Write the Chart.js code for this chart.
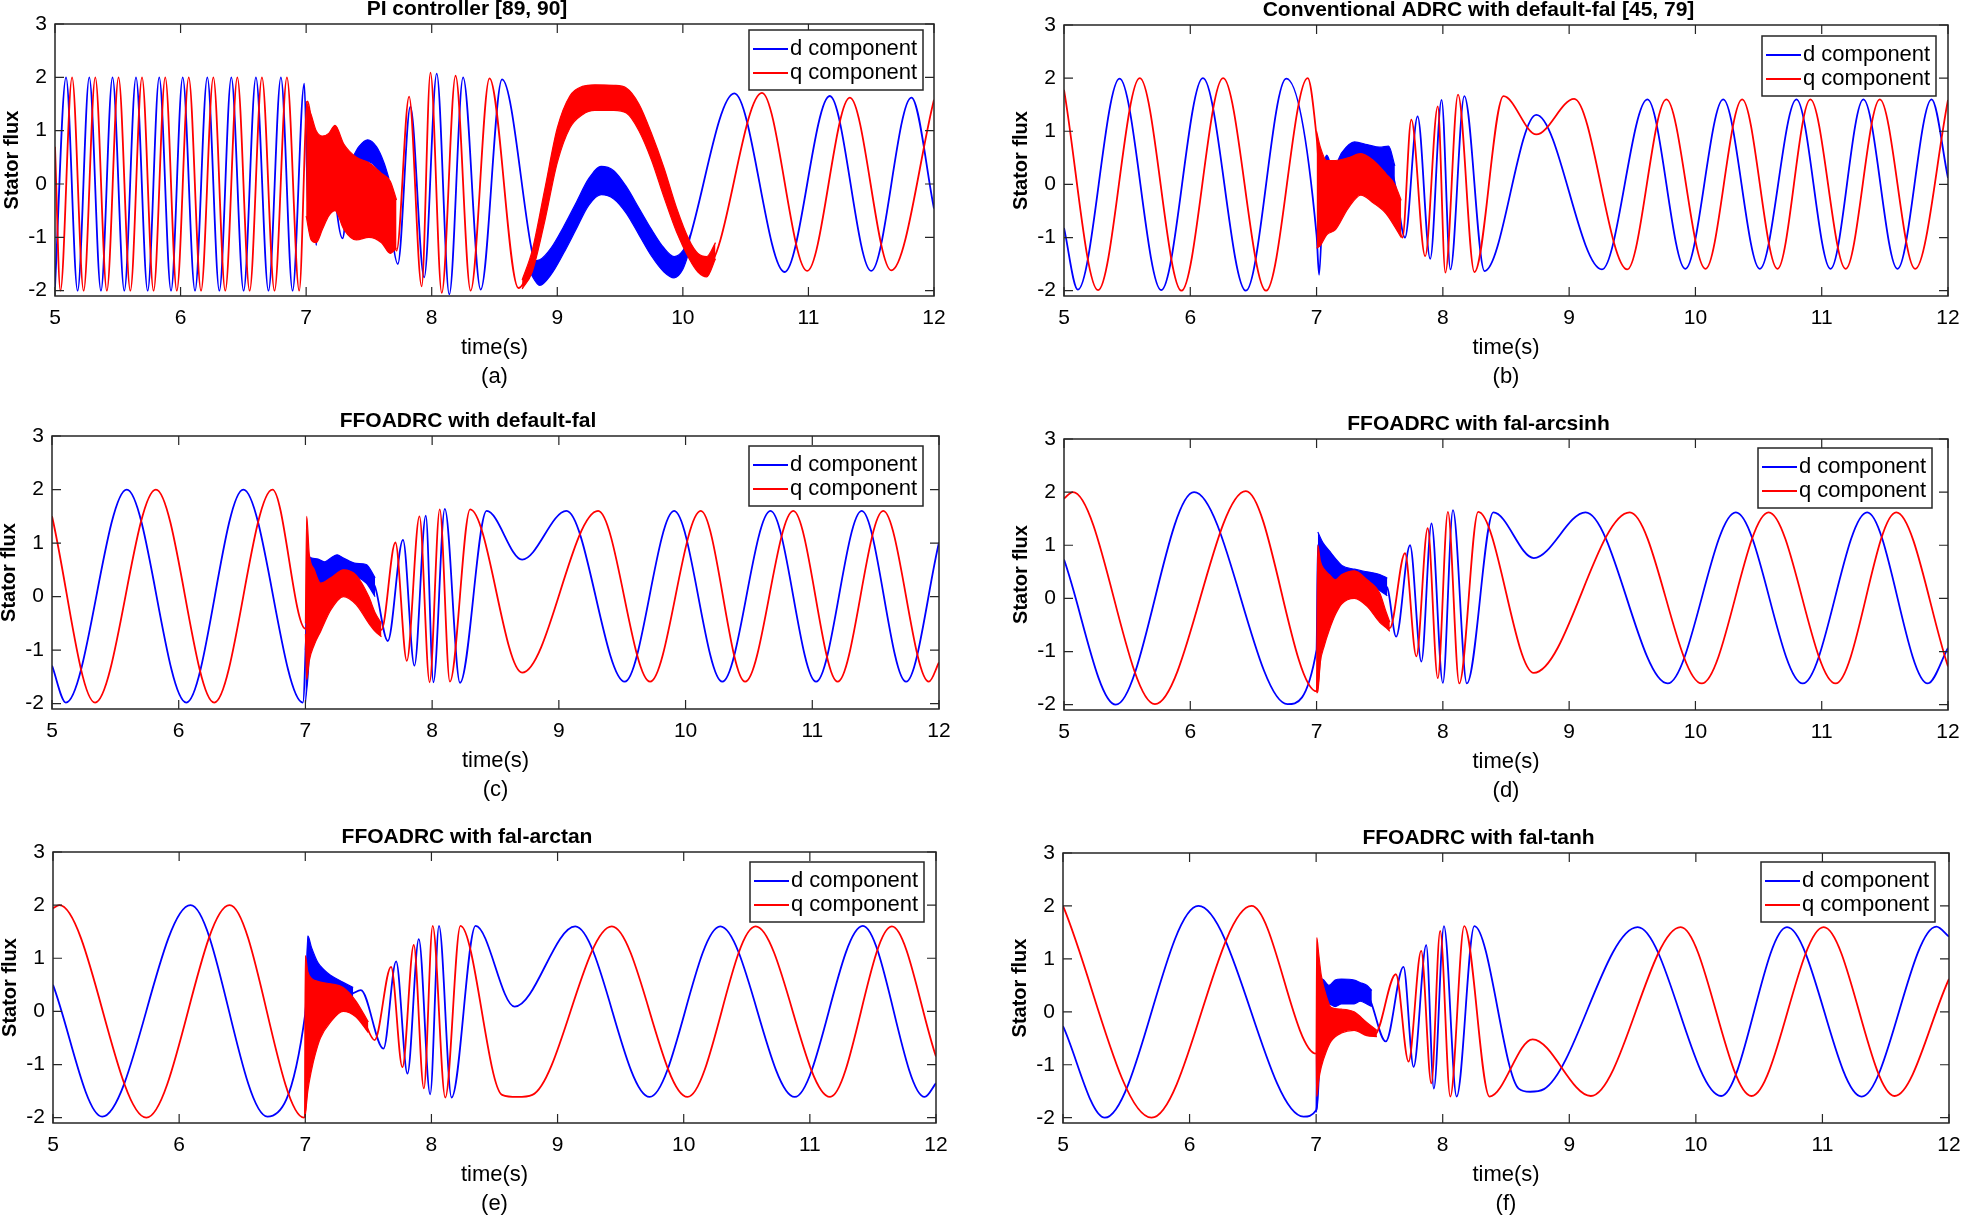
<!DOCTYPE html>
<html><head><meta charset="utf-8">
<script src="https://cdn.jsdelivr.net/npm/chart.js@4.4.1/dist/chart.umd.min.js"></script>
<style>
html,body{margin:0;padding:0;background:#fff;width:1961px;height:1215px;overflow:hidden;position:relative}
canvas{position:absolute}
</style></head><body>
<script>
// ================= DATA =================
const X_MIN = 5, X_MAX = 12, Y_MIN = -2.1, Y_MAX = 3;
const X_TICKS = [5, 6, 7, 8, 9, 10, 11, 12];
const Y_TICKS = [-2, -1, 0, 1, 2, 3];
const TITLES = ['PI controller [89, 90]', 'Conventional ADRC with default-fal [45, 79]',
  'FFOADRC with default-fal', 'FFOADRC with fal-arcsinh', 'FFOADRC with fal-arctan', 'FFOADRC with fal-tanh'];
const SUBLABELS = ['(a)', '(b)', '(c)', '(d)', '(e)', '(f)'];
const X_LABEL = 'time(s)';
const Y_LABEL = 'Stator flux';
const SERIES = ['d component', 'q component'];

// ---- (a) PI controller ----
const aD = [[5.0,-1.93],[5.088,2],[5.18,-2],[5.273,2],[5.366,-2],[5.458,2],[5.552,-2],[5.645,2],[5.738,-2],[5.83,2],[5.924,-2],[6.017,2],[6.115,-2],[6.213,2],[6.309,-2],[6.404,2],[6.502,-2],[6.6,2],[6.7,-2],[6.799,2],[6.892,-2],[6.985,1.88],
  [7.02,-0.7],[7.05,1.0],[7.08,-1.15],[7.12,0.7],[7.16,-0.5],[7.2,0.9],[7.24,-0.4],[7.29,-1.02],[7.34,0.05],[7.42,0.45],[7.5,0.62],[7.58,0.45],[7.64,0.15],[7.68,-0.9],[7.73,-1.5],[7.83,1.45],[7.94,-1.75],[8.04,2.07],[8.14,-2.07],[8.25,2.0],[8.39,-1.98],[8.56,1.96],
  [8.86,-1.66],[9.35,0.07],[9.93,-1.56],[10.41,1.7],[10.81,-1.65],[11.17,1.65],[11.5,-1.63],[11.82,1.62],[12.0,-0.46]];
const aQ = [[5.0,0.7],[5.043,-2],[5.136,2],[5.228,-2],[5.321,2],[5.413,-2],[5.506,2],[5.6,-2],[5.693,2],[5.785,-2],[5.878,2],[5.97,-2],[6.065,2],[6.163,-2],[6.261,2],[6.356,-2],[6.452,2],[6.55,-2],[6.648,2],[6.748,-2],[6.847,2],[6.945,-2],
  [7.01,1.55],[7.1,0.0],[7.23,0.3],[7.4,-0.3],[7.55,-0.3],[7.66,-0.6],[7.72,-1.25],[7.82,1.64],[7.92,-1.92],[7.99,2.09],[8.08,-2.04],[8.19,2.03],[8.31,-2.0],[8.46,1.98],[8.69,-1.95],
  [8.9,-0.4],[9.0,0.72],[9.2,1.55],[9.4,1.62],[9.55,1.57],[9.75,0.7],[9.95,-0.67],[10.19,-1.55],[10.63,1.71],[10.99,-1.63],[11.33,1.62],[11.66,-1.62],[12.0,1.58]];
const aDband1X  = [7.3, 7.36, 7.42, 7.49, 7.56, 7.62, 7.66];
const aDband1Hi = [0.2, 0.45, 0.7, 0.83, 0.7, 0.4, 0.1];
const aDband1Lo = [-0.2, 0.0, 0.25, 0.42, 0.3, 0.0, -0.3];
const aDband2X  = [8.78, 8.86, 8.95, 9.05, 9.15, 9.25, 9.35, 9.45, 9.55, 9.65, 9.75, 9.85, 9.93, 10.0, 10.06];
const aDband2Hi = [-1.45, -1.42, -1.2, -0.8, -0.35, 0.1, 0.33, 0.25, -0.05, -0.45, -0.85, -1.2, -1.36, -1.25, -0.95];
const aDband2Lo = [-1.65, -1.9, -1.7, -1.3, -0.85, -0.4, -0.2, -0.28, -0.55, -0.95, -1.35, -1.65, -1.76, -1.6, -1.2];
const aQband1X  = [7.0, 7.04, 7.08, 7.13, 7.18, 7.23, 7.3, 7.4, 7.5, 7.6, 7.67, 7.72];
const aQband1Hi = [1.55, 1.3, 1.0, 0.9, 0.95, 1.1, 0.75, 0.5, 0.4, 0.2, 0.05, -0.3];
const aQband1Lo = [-0.6, -1.05, -1.1, -0.85, -0.6, -0.5, -0.85, -1.05, -1.0, -1.1, -1.3, -1.2];
const aQband2X  = [8.72, 8.8, 8.9, 9.0, 9.1, 9.2, 9.3, 9.45, 9.55, 9.65, 9.75, 9.85, 9.95, 10.05, 10.12, 10.19, 10.26];
const aQband2Hi = [-1.8, -1.25, -0.1, 1.05, 1.65, 1.83, 1.86, 1.85, 1.8, 1.5, 0.95, 0.3, -0.45, -1.05, -1.3, -1.36, -1.1];
const aQband2Lo = [-1.97, -1.65, -0.7, 0.4, 1.05, 1.3, 1.38, 1.38, 1.33, 1.0, 0.45, -0.25, -0.9, -1.4, -1.65, -1.74, -1.4];

// ---- (b) Conventional ADRC ----
const bD = [[5.0,-0.82],[5.11,-1.98],[5.44,1.99],[5.77,-1.99],[6.1,2.0],[6.44,-2.0],[6.76,1.99],[7.0,-0.95],[7.02,-1.7],[7.06,0.1],[7.13,0.18],[7.3,0.6],[7.45,0.52],[7.57,0.42],[7.62,0.02],[7.7,-1.0],[7.8,1.28],[7.9,-1.4],[7.99,1.59],[8.06,-1.6],[8.17,1.66],[8.33,-1.63],[8.74,1.31],[9.26,-1.6],[9.62,1.6],[9.92,-1.59],[10.22,1.6],[10.51,-1.59],[10.8,1.6],[11.07,-1.59],[11.33,1.6],[11.6,-1.59],[11.87,1.6],[12.0,0.12]];
const bQ = [[5.0,1.78],[5.27,-1.99],[5.6,2.0],[5.93,-2.0],[6.26,2.0],[6.6,-2.0],[6.93,2.0],[7.0,0.9],[7.04,-0.25],[7.12,-0.3],[7.35,0.19],[7.5,-0.05],[7.62,-0.4],[7.68,-1.0],[7.75,1.22],[7.86,-1.35],[7.96,1.47],[8.02,-1.66],[8.12,1.69],[8.25,-1.65],[8.48,1.66],[8.74,0.94],[9.04,1.61],[9.46,-1.6],[9.77,1.6],[10.08,-1.59],[10.37,1.6],[10.65,-1.59],[10.91,1.6],[11.19,-1.59],[11.46,1.6],[11.74,-1.59],[12.0,1.59]];
const bDbandX  = [7.03, 7.08, 7.13, 7.2, 7.3, 7.4, 7.5, 7.57, 7.62];
const bDbandHi = [0.1, 0.55, 0.3, 0.6, 0.8, 0.75, 0.7, 0.72, 0.35];
const bDbandLo = [-0.9, 0.05, 0.12, 0.25, 0.4, 0.35, 0.25, 0.1, -0.3];
const bQbandX  = [7.0, 7.03, 7.08, 7.15, 7.25, 7.35, 7.45, 7.55, 7.62, 7.67];
const bQbandHi = [1.0, 0.7, 0.45, 0.45, 0.5, 0.58, 0.45, 0.2, 0.0, -0.3];
const bQbandLo = [-1.2, -1.15, -0.95, -0.85, -0.45, -0.2, -0.35, -0.55, -0.8, -1.0];

// ---- (c) FFOADRC default-fal ----
const cD = [[5.0,-1.29],[5.11,-1.98],[5.59,2.0],[6.06,-1.98],[6.51,2.0],[6.98,-1.98],[7.02,0.0],[7.1,0.45],[7.15,0.4],[7.25,0.6],[7.35,0.58],[7.45,0.48],[7.55,0.18],[7.65,-0.83],[7.77,1.06],[7.86,-1.29],[7.95,1.51],[8.01,-1.6],[8.1,1.64],[8.22,-1.61],[8.43,1.6],[8.71,0.69],[9.06,1.6],[9.52,-1.59],[9.91,1.6],[10.29,-1.59],[10.67,1.6],[11.03,-1.59],[11.39,1.6],[11.74,-1.59],[12.0,1.01]];
const cQ = [[5.0,1.5],[5.34,-1.98],[5.82,2.0],[6.28,-1.98],[6.74,2.0],[7.0,-0.6],[7.07,-0.2],[7.3,0.25],[7.45,0.05],[7.6,-0.62],[7.71,1.01],[7.8,-1.2],[7.9,1.5],[7.98,-1.6],[8.06,1.63],[8.14,-1.59],[8.3,1.63],[8.71,-1.42],[9.31,1.6],[9.72,-1.59],[10.12,1.6],[10.47,-1.59],[10.85,1.6],[11.2,-1.59],[11.56,1.6],[11.92,-1.59],[12.0,-1.23]];
const cDbandX  = [7.0, 7.02, 7.05, 7.1, 7.15, 7.2, 7.25, 7.3, 7.4, 7.48, 7.55];
const cDbandHi = [-1.0, 0.75, 0.72, 0.7, 0.65, 0.72, 0.78, 0.72, 0.62, 0.6, 0.35];
const cDbandLo = [-1.98, -1.5, -0.4, 0.2, 0.15, 0.3, 0.4, 0.45, 0.38, 0.25, 0.0];
const cQbandX  = [7.0, 7.01, 7.03, 7.07, 7.12, 7.2, 7.3, 7.4, 7.5, 7.55, 7.6];
const cQbandHi = [-0.5, 1.5, 0.8, 0.5, 0.25, 0.35, 0.5, 0.4, 0.0, -0.3, -0.5];
const cQbandLo = [-0.7, -1.55, -1.2, -0.9, -0.65, -0.25, 0.0, -0.15, -0.5, -0.65, -0.75];

// ---- (d) FFOADRC fal-arcsinh ----
const dD = [[5.0,0.73],[5.41,-2.0],[6.03,2.0],[6.77,-1.99],[7.0,-0.97],[7.01,1.0],[7.05,0.62],[7.15,0.5],[7.3,0.45],[7.45,0.35],[7.56,0.2],[7.63,-0.72],[7.74,1.0],[7.83,-1.19],[7.91,1.41],[8.0,-1.59],[8.08,1.66],[8.19,-1.6],[8.4,1.62],[8.72,0.76],[9.13,1.62],[9.78,-1.6],[10.32,1.62],[10.85,-1.6],[11.36,1.62],[11.84,-1.6],[12.0,-0.93]];
const dQ = [[5.0,1.88],[5.07,2.0],[5.72,-1.99],[6.44,2.02],[7.0,-1.75],[7.06,-0.2],[7.3,0.27],[7.45,0.05],[7.58,-0.56],[7.7,0.85],[7.79,-1.09],[7.88,1.32],[7.96,-1.5],[8.04,1.63],[8.13,-1.6],[8.28,1.63],[8.72,-1.4],[9.48,1.62],[10.05,-1.6],[10.58,1.62],[11.11,-1.6],[11.59,1.62],[12.0,-1.28]];
const dDbandX  = [7.01, 7.05, 7.1, 7.15, 7.2, 7.3, 7.4, 7.5, 7.56];
const dDbandHi = [1.25, 1.05, 0.9, 0.75, 0.62, 0.55, 0.5, 0.45, 0.38];
const dDbandLo = [-0.8, 0.2, 0.35, 0.28, 0.3, 0.35, 0.3, 0.15, 0.05];
const dQbandX  = [7.0, 7.01, 7.03, 7.06, 7.1, 7.15, 7.2, 7.3, 7.4, 7.5, 7.55, 7.58];
const dQbandHi = [-1.75, 1.0, 0.7, 0.55, 0.45, 0.35, 0.45, 0.52, 0.35, 0.1, -0.25, -0.45];
const dQbandLo = [-1.78, -1.75, -1.2, -0.9, -0.6, -0.3, -0.1, 0.0, -0.15, -0.45, -0.55, -0.62];

// ---- (e) FFOADRC fal-arctan ----
const eD = [[5.0,0.5],[5.39,-1.98],[6.09,2.0],[6.7,-1.98],[7.0,-0.04],[7.03,0.8],[7.1,0.68],[7.2,0.55],[7.3,0.42],[7.36,0.33],[7.44,0.4],[7.62,-0.7],[7.72,0.94],[7.81,-1.17],[7.9,1.36],[7.99,-1.56],[8.06,1.61],[8.16,-1.62],[8.35,1.61],[8.66,0.09],[9.14,1.6],[9.73,-1.61],[10.29,1.6],[10.88,-1.61],[11.42,1.61],[11.91,-1.61],[12.0,-1.35]];
const eQ = [[5.0,1.94],[5.05,2.0],[5.74,-2.0],[6.4,2.0],[6.99,-2.0],[7.05,-0.25],[7.3,0.22],[7.45,-0.1],[7.55,-0.54],[7.68,0.84],[7.77,-1.05],[7.86,1.25],[7.94,-1.45],[8.01,1.61],[8.11,-1.62],[8.23,1.61],[8.56,-1.57],[8.68,-1.61],[8.8,-1.57],[9.43,1.6],[10.03,-1.61],[10.57,1.6],[11.16,-1.61],[11.65,1.6],[12.0,-0.85]];
const eDbandX  = [7.0, 7.02, 7.05, 7.1, 7.15, 7.2, 7.3, 7.38];
const eDbandHi = [-0.04, 1.42, 1.2, 0.92, 0.78, 0.68, 0.55, 0.45];
const eDbandLo = [-0.06, 0.0, 0.3, 0.45, 0.5, 0.42, 0.3, 0.25];
const eQbandX  = [6.995, 7.0, 7.02, 7.05, 7.08, 7.12, 7.2, 7.3, 7.4, 7.5];
const eQbandHi = [-2.0, 1.05, 0.75, 0.62, 0.58, 0.55, 0.52, 0.45, 0.2, -0.2];
const eQbandLo = [-2.0, -1.95, -1.5, -1.1, -0.8, -0.5, -0.2, 0.0, -0.1, -0.4];

// ---- (f) FFOADRC fal-tanh ----
const fD = [[5.0,-0.27],[5.33,-2.0],[6.07,2.0],[6.9,-1.98],[7.0,-1.86],[7.01,-1.7],[7.06,0.35],[7.1,0.33],[7.2,0.38],[7.3,0.37],[7.4,0.33],[7.55,-0.56],[7.69,0.85],[7.77,-1.04],[7.87,1.26],[7.93,-1.45],[8.01,1.62],[8.11,-1.6],[8.25,1.62],[8.6,-1.45],[8.69,-1.51],[8.8,-1.46],[9.54,1.6],[10.2,-1.59],[10.72,1.6],[11.31,-1.6],[11.9,1.61],[12.0,1.42]];
const fQ = [[5.0,2.0],[5.7,-2.0],[6.49,2.0],[7.0,-0.79],[7.08,-0.22],[7.2,-0.17],[7.3,-0.17],[7.46,-0.44],[7.63,0.71],[7.73,-0.94],[7.83,1.15],[7.91,-1.35],[7.98,1.53],[8.06,-1.6],[8.17,1.62],[8.37,-1.6],[8.71,-0.52],[9.17,-1.59],[9.88,1.6],[10.44,-1.59],[11.01,1.6],[11.57,-1.59],[12.0,0.62]];
const fDbandX  = [7.0, 7.01, 7.03, 7.06, 7.1, 7.15, 7.2, 7.3, 7.35, 7.4, 7.44];
const fDbandHi = [-1.86, 0.72, 0.65, 0.6, 0.5, 0.6, 0.62, 0.6, 0.55, 0.5, 0.4];
const fDbandLo = [-1.9, -1.7, -0.2, 0.1, 0.15, 0.1, 0.15, 0.15, 0.2, 0.15, 0.1];
const fQbandX  = [7.0, 7.005, 7.02, 7.04, 7.08, 7.12, 7.2, 7.3, 7.4, 7.48];
const fQbandHi = [-0.79, 1.4, 1.1, 0.7, 0.3, 0.08, 0.05, 0.0, -0.2, -0.35];
const fQbandLo = [-0.8, -1.6, -1.3, -1.05, -0.75, -0.55, -0.4, -0.35, -0.45, -0.47];

// ================= LAYOUT / STYLE =================
const BLUE = '#0000ff', RED = '#ff0000', AXIS = '#262626';
const FONT = "'Liberation Sans', Arial, Helvetica, sans-serif";
Chart.defaults.font.family = FONT;
Chart.defaults.color = '#000';

const PANELS = [
  {d: aD, q: aQ, dB: [[aDband1X, aDband1Hi, aDband1Lo], [aDband2X, aDband2Hi, aDband2Lo]], qB: [[aQband1X, aQband1Hi, aQband1Lo], [aQband2X, aQband2Hi, aQband2Lo]],
   g: {l: 55, r: 934, t: 24, b: 296}, leg: {r: 11, t: 6}},
  {d: bD, q: bQ, dB: [[bDbandX, bDbandHi, bDbandLo]], qB: [[bQbandX, bQbandHi, bQbandLo]], g: {l: 1064, r: 1948, t: 25, b: 296}, leg: {r: 12, t: 11}},
  {d: cD, q: cQ, dB: [[cDbandX, cDbandHi, cDbandLo]], qB: [[cQbandX, cQbandHi, cQbandLo]], g: {l: 52, r: 939, t: 436, b: 709}, leg: {r: 16, t: 10}},
  {d: dD, q: dQ, dB: [[dDbandX, dDbandHi, dDbandLo]], qB: [[dQbandX, dQbandHi, dQbandLo]], g: {l: 1064, r: 1948, t: 439, b: 710}, leg: {r: 16, t: 9}},
  {d: eD, q: eQ, dB: [[eDbandX, eDbandHi, eDbandLo]], qB: [[eQbandX, eQbandHi, eQbandLo]], g: {l: 53, r: 936, t: 852, b: 1123}, leg: {r: 12, t: 10}},
  {d: fD, q: fQ, dB: [[fDbandX, fDbandHi, fDbandLo]], qB: [[fQbandX, fQbandHi, fQbandLo]], g: {l: 1063, r: 1949, t: 853, b: 1123}, leg: {r: 14, t: 9}}
];

const pts = arr => arr.map(p => ({x: p[0], y: p[1]}));
function mainSet(arr, color, label, row) {
  return {label, legendRow: row, data: pts(arr), borderColor: color, backgroundColor: color,
    borderWidth: 1.8, pointRadius: 0, fill: false, cubicInterpolationMode: 'monotone'};
}
function bandSets(band, color) {
  const [xs, hi, lo] = band;
  return [
    {label: '', data: xs.map((x, i) => ({x, y: hi[i]})), borderColor: color, borderWidth: 1.2,
     pointRadius: 0, fill: false, cubicInterpolationMode: 'monotone'},
    {label: '', data: xs.map((x, i) => ({x, y: lo[i]})), borderColor: color, backgroundColor: color,
     borderWidth: 1.2, pointRadius: 0, fill: '-1', cubicInterpolationMode: 'monotone'}
  ];
}

const framePlugin = {
  id: 'frame',
  afterDraw(chart, args, opts) {
    const {ctx, chartArea: a} = chart;
    const xs = chart.scales.x, ys = chart.scales.y;
    ctx.save();
    ctx.strokeStyle = AXIS; ctx.lineWidth = 1.2;
    ctx.beginPath();
    xs.ticks.forEach(t => {
      const px = xs.getPixelForValue(t.value);
      ctx.moveTo(px, a.bottom); ctx.lineTo(px, a.bottom - 9);
      ctx.moveTo(px, a.top); ctx.lineTo(px, a.top + 9);
    });
    ys.ticks.forEach(t => {
      const py = ys.getPixelForValue(t.value);
      ctx.moveTo(a.left, py); ctx.lineTo(a.left + 9, py);
      ctx.moveTo(a.right, py); ctx.lineTo(a.right - 9, py);
    });
    ctx.stroke();
    ctx.lineWidth = 1.5;
    ctx.strokeRect(a.left, a.top, a.right - a.left, a.bottom - a.top);
    // legend box
    const bw = 174, bh = 60;
    const bx = a.right - opts.r - bw, by = a.top + opts.t;
    ctx.fillStyle = '#fff'; ctx.fillRect(bx, by, bw, bh);
    ctx.strokeStyle = AXIS; ctx.lineWidth = 1.5; ctx.strokeRect(bx, by, bw, bh);
    const items = chart.data.datasets.filter(d => d.legendRow !== undefined).sort((p, q) => p.legendRow - q.legendRow);
    ctx.font = '22px ' + FONT; ctx.textBaseline = 'middle'; ctx.textAlign = 'left';
    items.forEach((d, i) => {
      const yy = by + 19 + i * 24;
      ctx.strokeStyle = d.borderColor; ctx.lineWidth = 2.2;
      ctx.beginPath(); ctx.moveTo(bx + 4, yy); ctx.lineTo(bx + 39, yy); ctx.stroke();
      ctx.fillStyle = '#000'; ctx.fillText(d.label, bx + 41, yy);
    });
    ctx.restore();
  }
};

PANELS.forEach((p, idx) => {
  const g = p.g;
  const W = (g.r - g.l) + 110, H = 32 + (g.b - g.t) + 95;
  const cv = document.createElement('canvas');
  cv.width = W; cv.height = H;
  cv.style.left = (g.l - 55) + 'px'; cv.style.top = (g.t - 32) + 'px';
  cv.style.width = W + 'px'; cv.style.height = H + 'px';
  document.body.appendChild(cv);

  const datasets = [mainSet(p.q, RED, SERIES[1], 1)];
  p.qB.forEach(b => datasets.push(...bandSets(b, RED)));
  datasets.push(mainSet(p.d, BLUE, SERIES[0], 0));
  p.dB.forEach(b => datasets.push(...bandSets(b, BLUE)));

  new Chart(cv, {
    type: 'line',
    data: {datasets},
    plugins: [framePlugin],
    options: {
      responsive: false, maintainAspectRatio: false, devicePixelRatio: 1, animation: false, events: [],
      layout: {padding: {left: 0, right: 55, top: 0, bottom: 0}},
      plugins: {
        legend: {display: false}, tooltip: {enabled: false},
        title: {display: true, text: TITLES[idx], color: '#000',
          font: {size: 21, weight: 'bold', lineHeight: 25 / 21}, padding: {top: 5, bottom: 2}},
        frame: p.leg
      },
      scales: {
        x: {
          type: 'linear', min: X_MIN, max: X_MAX,
          afterBuildTicks: s => { s.ticks = X_TICKS.map(v => ({value: v})); },
          afterFit: s => { s.height = 95; },
          ticks: {font: {size: 21}, color: '#000', padding: 9.2, maxRotation: 0, autoSkip: false},
          grid: {drawOnChartArea: false, drawTicks: false},
          border: {display: false},
          title: {display: true, text: [X_LABEL, SUBLABELS[idx]], color: '#000',
            font: {size: 22, lineHeight: 29 / 22}, padding: {top: 0, bottom: 0}}
        },
        y: {
          min: Y_MIN, max: Y_MAX,
          afterBuildTicks: s => { s.ticks = Y_TICKS.map(v => ({value: v})); },
          afterFit: s => { s.width = 55; },
          ticks: {font: {size: 21}, color: '#000', padding: 8},
          grid: {drawOnChartArea: false, drawTicks: false},
          border: {display: false},
          title: {display: true, text: Y_LABEL, color: '#000',
            font: {size: 20, weight: 'bold', lineHeight: 1.2}, padding: {top: 0, bottom: 0}}
        }
      }
    }
  });
});
</script>
</body></html>
